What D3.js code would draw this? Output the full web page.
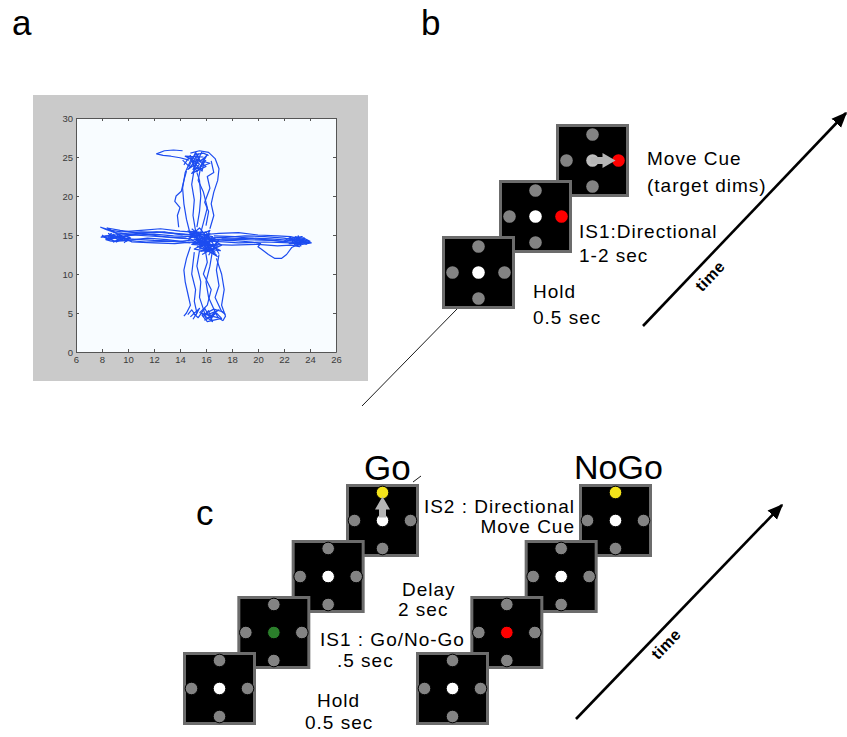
<!DOCTYPE html>
<html>
<head>
<meta charset="utf-8">
<script src="https://d3js.org/d3.v7.min.js"></script>
<style>
  body { margin: 0; background: #fff; }
  text { font-family: "Liberation Sans", Arial, Helvetica, sans-serif; }
</style>
</head>
<body>
<svg id="fig" width="847" height="737"></svg>
<script>
// ---- panel a : hand trajectories (x, y in screen units) ----
var xTicks = [6, 8, 10, 12, 14, 16, 18, 20, 22, 24, 26];
var yTicks = [0, 5, 10, 15, 20, 25, 30];

var leftTraces = [
  [[15,14.8],[13.5,14.9],[12,15.1],[10.5,15.0],[9.5,14.8],[8.6,14.9],[8.0,14.8],[8.4,14.6],[9.2,14.7],[10,14.5],[12,14.3],[14,14.2],[15.3,14.4]],
  [[15.5,15.3],[14,15.5],[12.5,15.8],[11,15.6],[9.5,15.4],[8.7,15.6],[7.9,16.0],[8.3,15.7],[9,15.3],[10.4,15.0],[12.5,14.8],[14.5,14.6]],
  [[8.2,14.8],[8.6,14.3],[8.9,15.1],[9.2,14.4],[9.4,15.0],[9.1,14.1],[9.6,14.6],[9.9,14.2],[9.5,14.9],[8.8,14.5],[8.5,15.2],[9.3,14.3],[10.1,14.7],[9.7,14.0]],
  [[16,14.0],[14.5,14.1],[13,14.4],[11.5,14.6],[10,14.3],[9.0,14.2],[8.5,14.5],[9.6,14.8],[11,15.2],[12.8,15.4],[14.2,15.0]],
  [[15.2,15.0],[13,15.3],[11,15.4],[9.8,15.2],[9.0,15.0],[8.3,14.9],[7.9,14.7]],
  [[14.8,14.5],[13.2,14.7],[11.8,15.0],[10.6,15.3],[9.4,15.6],[8.4,15.9],[8.9,15.4],[9.8,14.6],[10.3,14.1],[12,14.0],[13.6,13.9],[15,14.1]],
  [[15.6,14.9],[14,15.1],[12.2,15.4],[10.8,15.2],[9.6,15.0],[8.9,14.7],[8.3,14.4],[8.7,14.2],[9.8,14.3],[11.4,14.1],[13.2,14.2],[14.8,14.0]],
  [[8.0,15.0],[8.4,14.5],[8.7,15.2],[9.0,14.6],[9.3,15.1],[9.5,14.4],[9.8,14.9],[10.2,14.6],[9.7,14.3],[9.1,14.8],[8.6,14.7],[8.9,14.1],[9.4,14.5]]
];
var rightTraces = [
  [[15.8,14.6],[17.5,14.7],[19,14.9],[20.5,14.8],[22,14.6],[23,14.3],[23.8,14.1],[24.1,14.0],[23.4,13.8],[22.5,14.0],[20.5,14.1],[18.5,14.0],[16.5,14.2]],
  [[16.2,14.2],[18,14.3],[19.5,14.1],[20.2,13.9],[20,13.5],[20.4,13.0],[20.8,12.5],[21.3,12.0],[21.8,12.0],[22.2,12.5],[22.6,13.4],[23.2,13.9],[23.9,14.1]],
  [[22,14.2],[22.5,14.7],[22.8,13.8],[23.1,14.9],[23.3,13.6],[22.7,14.4],[23.6,14.5],[23.0,13.9],[23.8,14.3],[22.4,13.9],[23.5,14.0],[22.9,14.6],[23.4,14.8],[22.2,14.5]],
  [[15.5,15.0],[17,15.2],[18.5,15.3],[20,15.0],[21.5,14.9],[22.5,14.8],[23.5,14.4],[24,14.1]],
  [[16,13.8],[18,13.7],[20,13.8],[21.5,13.6],[22.5,13.7],[23.2,13.5],[22.6,14.1],[21,14.3],[19,14.4],[17.2,14.5]],
  [[16.6,14.9],[18.2,14.8],[19.8,14.5],[21.2,14.3],[22.1,14.1],[22.8,14.7],[23.6,14.6]],
  [[22.6,14.0],[22.9,14.8],[23.3,14.2],[23.7,13.8],[24.0,14.2],[23.5,14.6],[23.1,13.7],[22.7,14.5],[23.9,14.0],[23.2,14.4]],
  [[16.4,14.4],[18,14.5],[19.6,14.6],[21,14.5],[22.4,14.3],[23.6,14.0]]
];
var upTraces = [
  [[14.8,15],[14.5,17],[14.3,19],[14.2,21],[14.4,23],[14.8,24.5],[15.2,25.3],[15.8,25.5],[16.2,25.2]],
  [[15.2,15.5],[15,17.5],[15.1,19.5],[14.9,21.5],[15.1,23.5],[15.5,25]],
  [[15.6,15.3],[15.9,17.2],[16.1,18.5],[15.8,20.5],[15.4,22],[15.6,23.8],[16,24.6]],
  [[16.3,15.8],[16.6,17.5],[16.4,19],[16.6,20.5],[16.9,22],[17,23.5],[16.7,24.8],[16.2,25.6],[15.5,25.8],[14.8,25.5]],
  [[14.2,25.8],[13.5,25.9],[12.8,25.8],[12.2,25.4],[12.7,25.2],[13.3,25.1],[14,24.9],[14.7,24.6]],
  [[14.3,24.0],[14.8,25.2],[15.1,23.6],[15.4,25.4],[15.0,24.4],[15.7,23.2],[15.9,24.9],[14.6,23.4],[15.3,24.7],[16.0,23.8],[14.9,22.9],[15.5,24.1],[14.4,25.1],[15.8,25.0]],
  [[13.9,16],[13.8,17.5],[14,18.5],[13.6,19.3],[13.7,20],[14.1,20.6],[14.3,22],[14.5,23.2]],
  [[15.3,16],[15.5,18],[15.6,20],[15.5,22],[15.3,23]],
  [[16.0,16.2],[16.2,18],[15.9,19.2],[16.3,21],[16.1,22.5],[16.6,23],[16.4,24.5]],
  [[14.2,24.6],[14.7,23.8],[15.2,25.6],[15.6,24.4],[16.1,25.3],[15.3,23.1],[14.8,24.9],[16.3,24.2],[15.0,23.4],[15.7,25.7]]
];
var downTraces = [
  [[14.8,13.5],[14.5,12],[14.3,10.5],[14.4,9],[14.6,7.5],[14.8,6],[14.5,5],[14.3,4.6]],
  [[15.5,13],[15.3,11],[15.6,9],[15.5,7],[15.8,5.5],[16,4.3]],
  [[16.5,13],[16.3,11],[16.0,9],[16.2,7],[16.6,5.5],[16.9,4.5],[17.3,4.0]],
  [[17,12.5],[16.8,10.5],[17,8.5],[16.7,7],[17.2,5.2],[17.5,4.8]],
  [[15.1,12.8],[14.9,10],[15.2,8],[15.1,6.5],[15.3,5],[15.0,4.2]],
  [[15.8,4.5],[16.2,5.3],[16.4,4.2],[16.7,5.1],[16.0,4.8],[16.9,4.4],[15.6,5.0],[16.5,3.9],[16.3,4.9],[17.0,5.4],[15.9,4.1],[16.6,4.6]],
  [[15.9,13.5],[16.1,11.5],[15.8,10],[16.4,8],[16.1,6],[15.5,5]],
  [[16.8,12],[17.2,10],[17.4,8],[17.2,6],[17.5,4.6],[17.3,4.0]],
  [[14.6,4.8],[14.9,5.4],[15.2,4.7],[15.5,5.6],[14.8,4.5]],
  [[15.0,5.0],[15.4,4.4],[15.9,5.6],[16.3,4.4],[16.8,5.0],[17.2,4.3],[16.1,3.9],[15.7,4.7],[16.6,5.5],[17.4,5.1]]
];
var centerTraces = [
  [[14.6,14.2],[15.2,15.6],[15.8,13.8],[16.3,15.2],[15.0,14.0],[16.6,13.5],[15.4,15.0],[16.9,14.1],[15.9,12.8],[16.5,14.8],[14.8,15.3],[16.1,13.2],[17.1,13.0],[15.6,14.4],[16.8,12.4],[15.3,13.6]],
  [[14.9,15.8],[15.7,14.7],[16.2,13.9],[15.1,14.5],[16.6,13.1],[15.5,13.3],[16.4,14.4],[14.7,14.8],[16.0,15.4],[17.0,12.6]],
  [[15.4,14.1],[16.7,14.6],[15.1,13.2],[16.2,12.9],[17.2,13.7],[15.7,15.1],[14.7,14.6],[16.9,12.2]],
  [[14.8,14.9],[15.5,15.9],[16.1,14.7],[14.9,13.8],[16.4,13.6],[15.6,12.9],[16.8,13.3],[15.2,14.7],[16.3,15.6],[15.9,14.2],[17.0,14.4],[16.2,12.4]],
  [[15.0,15.2],[16.0,13.6],[15.3,14.3],[16.5,14.1],[15.8,15.3],[14.6,15.5],[16.7,12.8],[15.5,13.9],[16.9,13.6],[15.7,12.5]]
];

// ---- panels b and c : screens, each listed as center, top, right, bottom, left ----
var bScreens = [
  ["fix", "off", "off", "off", "off"],
  ["fix", "off", "cue", "off", "off"],
  ["dim", "off", "cue", "off", "off"]
];
var bArrows = [null, null, "right"];
var goScreens = [
  ["fix", "off", "off", "off", "off"],
  ["go", "off", "off", "off", "off"],
  ["fix", "off", "off", "off", "off"],
  ["fix", "target", "off", "off", "off"]
];
var goArrows = [null, null, null, "up"];
var noGoScreens = [
  ["fix", "off", "off", "off", "off"],
  ["nogo", "off", "off", "off", "off"],
  ["fix", "off", "off", "off", "off"],
  ["fix", "target", "off", "off", "off"]
];
var noGoArrows = [null, null, null, null];

var svg = d3.select("#fig");

var dotColor = d3.scaleOrdinal()
  .domain(["fix", "off", "cue", "dim", "go", "nogo", "target"])
  .range(["#ffffff", "#838383", "#ff0000", "#bdbdbd", "#2b7f2b", "#ff0000", "#f3e31b"]);

// panel labels
svg.append("text").attr("x", 12).attr("y", 35).attr("font-size", 35).text("a");
svg.append("text").attr("x", 421).attr("y", 35).attr("font-size", 35).text("b");
svg.append("text").attr("x", 196).attr("y", 525).attr("font-size", 35).text("c");

// ---- panel a ----
svg.append("rect").attr("x", 33).attr("y", 95).attr("width", 335).attr("height", 286).attr("fill", "#cacaca");

var x = d3.scaleLinear().domain([6, 26]).range([76, 336]);
var y = d3.scaleLinear().domain([0, 30]).range([352, 118]);

svg.append("rect")
  .attr("x", x(6)).attr("y", y(30))
  .attr("width", x(26) - x(6)).attr("height", y(0) - y(30))
  .attr("fill", "#f8fcff");

var line = d3.line()
  .x(function(d) { return x(d[0]); })
  .y(function(d) { return y(d[1]); });

var allTraces = [].concat(leftTraces, rightTraces, upTraces, downTraces, centerTraces);
svg.append("g").selectAll("path")
  .data(allTraces)
  .enter()
  .append("path")
  .attr("d", line)
  .attr("fill", "none")
  .attr("stroke", "#1c4cf0")
  .attr("stroke-width", 1.2)
  .attr("stroke-linejoin", "round");

function styleAxis(g) {
  g.selectAll(".domain").attr("stroke", "#555");
  g.selectAll(".tick line").attr("stroke", "#555");
  g.selectAll("text").attr("fill", "#3a3a3a").attr("font-size", 9.5)
    .attr("font-family", "'Liberation Sans', Arial, sans-serif");
}

svg.append("g")
  .attr("transform", "translate(0," + y(0) + ")")
  .call(d3.axisBottom(x).tickValues(xTicks).tickSizeInner(-3).tickSizeOuter(0).tickPadding(4))
  .call(styleAxis);
svg.append("g")
  .attr("transform", "translate(0," + y(30) + ")")
  .call(d3.axisTop(x).tickValues(xTicks).tickSizeInner(-3).tickSizeOuter(0).tickFormat(""))
  .call(styleAxis);
svg.append("g")
  .attr("transform", "translate(" + x(6) + ",0)")
  .call(d3.axisLeft(y).tickValues(yTicks).tickSizeInner(-3).tickSizeOuter(0).tickPadding(3))
  .call(styleAxis);
svg.append("g")
  .attr("transform", "translate(" + x(26) + ",0)")
  .call(d3.axisRight(y).tickValues(yTicks).tickSizeInner(-3).tickSizeOuter(0).tickFormat(""))
  .call(styleAxis);

// ---- screens ----
var side = 73;
var offsets = [[0, 0], [0, -1], [1, 0], [0, 1], [-1, 0]];

function drawScreen(g, sx, sy, states, arrow, spread, outline) {
  var cx = sx + side / 2, cy = sy + side / 2;
  var d = d3.scaleLinear().domain([-1, 1]).range([-spread, spread]);
  g.append("rect")
    .attr("x", sx + 1.5).attr("y", sy + 1.5)
    .attr("width", side - 3).attr("height", side - 3)
    .attr("fill", "#000").attr("stroke", "#6c6c6c").attr("stroke-width", 3);
  g.selectAll(null)
    .data(states)
    .enter()
    .append("circle")
    .attr("cx", function(s, i) { return cx + d(offsets[i][0]); })
    .attr("cy", function(s, i) { return cy + d(offsets[i][1]); })
    .attr("r", 6.3)
    .attr("fill", function(s) { return dotColor(s); })
    .attr("stroke", outline ? "#000" : "none")
    .attr("stroke-width", 1);
  if (arrow) {
    var p = d3.path();
    if (arrow === "right") {
      p.moveTo(cx - 2, cy - 3.5); p.lineTo(cx + 10, cy - 3.5); p.lineTo(cx + 10, cy - 7.5);
      p.lineTo(cx + 23, cy); p.lineTo(cx + 10, cy + 7.5); p.lineTo(cx + 10, cy + 3.5);
      p.lineTo(cx - 2, cy + 3.5); p.closePath();
    } else {
      p.moveTo(cx - 3.5, cy - 3); p.lineTo(cx - 3.5, cy - 11); p.lineTo(cx - 7.5, cy - 11);
      p.lineTo(cx, cy - 24); p.lineTo(cx + 7.5, cy - 11); p.lineTo(cx + 3.5, cy - 11);
      p.lineTo(cx + 3.5, cy - 3); p.closePath();
    }
    g.append("path").attr("d", p.toString()).attr("fill", "#b5b5b5");
  }
}

function drawSequence(screens, arrows, xs, ys, spread, outline) {
  var g = svg.append("g");
  for (var i = screens.length - 1; i >= 0; i--) {
    drawScreen(g, xs(i), ys(i), screens[i], arrows[i], spread, outline);
  }
}

// thin connector lines
svg.append("line").attr("x1", 362).attr("y1", 406).attr("x2", 457).attr("y2", 309)
  .attr("stroke", "#000").attr("stroke-width", 0.9);
svg.append("line").attr("x1", 413).attr("y1", 482).attr("x2", 421).attr("y2", 476)
  .attr("stroke", "#000").attr("stroke-width", 0.9);

var bX = d3.scaleLinear().domain([0, 2]).range([442, 556]);
var bY = d3.scaleLinear().domain([0, 2]).range([236, 124]);
drawSequence(bScreens, bArrows, bX, bY, 26, false);

var goX = d3.scaleLinear().domain([0, 3]).range([183, 346]);
var noGoX = d3.scaleLinear().domain([0, 3]).range([416, 579]);
var cY = d3.scaleLinear().domain([0, 3]).range([652, 484]);
drawSequence(goScreens, goArrows, goX, cY, 28, true);
drawSequence(noGoScreens, noGoArrows, noGoX, cY, 28, true);

// ---- annotations ----
function label(tx, ty, str, anchor, size) {
  svg.append("text")
    .attr("x", tx).attr("y", ty)
    .attr("font-size", size || 19)
    .attr("letter-spacing", size ? 0 : 1)
    .attr("text-anchor", anchor || "start")
    .text(str);
}
label(647, 165, "Move Cue");
label(647, 192, "(target dims)");
label(579, 238, "IS1:Directional");
label(579, 262, "1-2 sec");
label(533, 298, "Hold");
label(533, 324, "0.5 sec");

label(364, 480, "Go", "start", 35);
label(574, 479, "NoGo", "start", 34);
label(575, 513, "IS2 : Directional", "end");
label(575, 533, "Move Cue", "end");
label(402, 596, "Delay");
label(398, 616, "2 sec");
label(320, 646, "IS1 : Go/No-Go");
label(337, 667, ".5 sec");
label(317, 707, "Hold");
label(305, 729, "0.5 sec");

// ---- time arrows ----
svg.append("defs").append("marker")
  .attr("id", "head")
  .attr("viewBox", "0 0 10 10")
  .attr("refX", 9).attr("refY", 5)
  .attr("markerWidth", 6).attr("markerHeight", 6)
  .attr("markerUnits", "strokeWidth")
  .attr("orient", "auto")
  .append("path").attr("d", "M0,0.8 L10,5 L0,9.2 Z").attr("fill", "#000");

function timeArrow(x1, y1, x2, y2, lx, ly) {
  svg.append("line")
    .attr("x1", x1).attr("y1", y1).attr("x2", x2).attr("y2", y2)
    .attr("stroke", "#000").attr("stroke-width", 2.6)
    .attr("marker-end", "url(#head)");
  var ang = Math.atan2(y2 - y1, x2 - x1) * 180 / Math.PI;
  svg.append("text")
    .attr("transform", "translate(" + lx + "," + ly + ") rotate(" + ang + ")")
    .attr("text-anchor", "middle")
    .attr("dy", "0.35em")
    .attr("font-size", 16)
    .attr("font-weight", "bold")
    .attr("letter-spacing", 0.5)
    .text("time");
}
timeArrow(643, 326, 846, 113, 710, 276);
timeArrow(576, 719, 782, 505, 666, 644);
</script>
</body>
</html>
